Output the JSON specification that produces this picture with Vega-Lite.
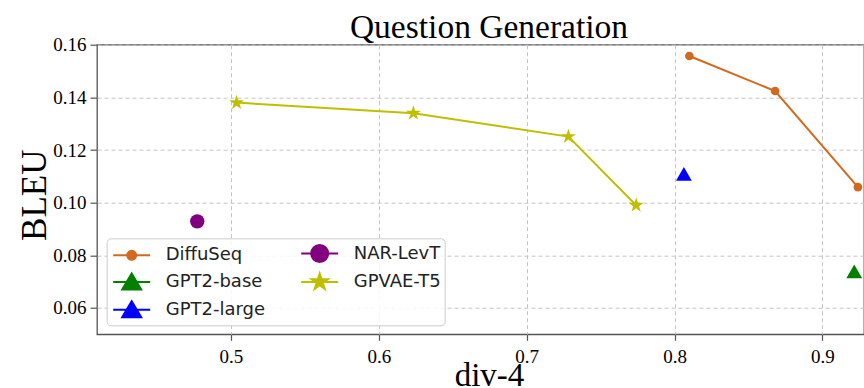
{
  "$schema": "https://vega.github.io/schema/vega-lite/v6.json",
  "width": 767,
  "height": 289.6,
  "autosize": {"type": "none"},
  "padding": {"left": 97, "top": 44.7, "right": 0, "bottom": 53.7},
  "background": "white",
  "title": {
    "text": "Question Generation",
    "font": "Liberation Serif",
    "fontSize": 33.5,
    "fontWeight": "normal",
    "color": "#000000",
    "anchor": "middle",
    "frame": "group",
    "offset": -10,
    "dx": 8.5
  },
  "config": {
    "view": {"stroke": "#555555", "strokeWidth": 1.3}
  },
  "data": {
    "values": [
      {"model": "DiffuSeq", "x": 0.810, "y": 0.1557, "order": 1},
      {"model": "DiffuSeq", "x": 0.868, "y": 0.1424, "order": 2},
      {"model": "DiffuSeq", "x": 0.924, "y": 0.1059, "order": 3},
      {"model": "GPT2-base", "x": 0.9215, "y": 0.0739, "order": 1},
      {"model": "GPT2-large", "x": 0.8063, "y": 0.1109, "order": 1},
      {"model": "NAR-LevT", "x": 0.4772, "y": 0.0929, "order": 1},
      {"model": "GPVAE-T5", "x": 0.5038, "y": 0.1380, "order": 1},
      {"model": "GPVAE-T5", "x": 0.6234, "y": 0.1340, "order": 2},
      {"model": "GPVAE-T5", "x": 0.7282, "y": 0.1251, "order": 3},
      {"model": "GPVAE-T5", "x": 0.7740, "y": 0.0990, "order": 4}
    ]
  },
  "encoding": {
    "x": {
      "field": "x",
      "type": "quantitative",
      "scale": {"domain": [0.4094, 0.9281], "nice": false, "zero": false},
      "axis": {
        "values": [0.5, 0.6, 0.7, 0.8, 0.9],
        "format": ".1f",
        "title": "div-4",
        "titleFont": "Liberation Serif",
        "titleFontSize": 33,
        "titleFontWeight": "normal",
        "titleColor": "#000000",
        "titleX": 392,
        "titleY": 51,
        "titleBaseline": "alphabetic",
        "titleAlign": "center",
        "labelFont": "Liberation Serif",
        "labelFontSize": 19,
        "labelColor": "#000000",
        "labelFlush": false,
        "labelPadding": 7,
        "tickSize": 6,
        "tickColor": "#555555",
        "tickWidth": 1.2,
        "domain": false,
        "grid": true,
        "gridDash": [4, 3],
        "gridColor": "#c4c4c4",
        "gridWidth": 1
      }
    },
    "y": {
      "field": "y",
      "type": "quantitative",
      "scale": {"domain": [0.05, 0.16], "nice": false, "zero": false},
      "axis": {
        "values": [0.06, 0.08, 0.10, 0.12, 0.14, 0.16],
        "format": ".2f",
        "title": "BLEU",
        "titleFont": "Liberation Serif",
        "titleFontSize": 35,
        "titleFontWeight": "normal",
        "titleColor": "#000000",
        "titleAngle": -90,
        "titleX": -52,
        "titleY": 150,
        "titleBaseline": "alphabetic",
        "titleAlign": "center",
        "labelFont": "Liberation Serif",
        "labelFontSize": 19,
        "labelColor": "#000000",
        "labelFlush": false,
        "labelPadding": 4,
        "tickSize": 7,
        "tickColor": "#555555",
        "tickWidth": 1.2,
        "domain": false,
        "grid": true,
        "gridDash": [4, 3],
        "gridColor": "#c4c4c4",
        "gridWidth": 1
      }
    },
    "color": {
      "field": "model",
      "type": "nominal",
      "scale": {
        "domain": ["DiffuSeq", "GPT2-base", "GPT2-large", "NAR-LevT", "GPVAE-T5"],
        "range": ["#D2691E", "#008000", "#0000FF", "#800080", "#BFBF00"]
      },
      "legend": {
        "title": null,
        "orient": "none",
        "legendX": 9.7,
        "legendY": 193.6,
        "direction": "vertical",
        "columns": 2,
        "columnPadding": 31,
        "rowPadding": 2.7,
        "padding": 4,
        "fillColor": "rgba(255,255,255,0.85)",
        "strokeColor": "#cccccc",
        "cornerRadius": 4,
        "labelFont": "DejaVu Sans",
        "labelFontSize": 18,
        "labelColor": "#222222",
        "labelOffset": 23,
        "symbolOffset": 10,
        "symbolSize": 400,
        "symbolStrokeWidth": 2,
        "encode": {
          "symbols": {
            "update": {
              "shape": {"signal": "datum.value === 'DiffuSeq' ? 'M-1.85,0H1.85M0.45,0A0.45,0.45,0,1,1,-0.45,0A0.45,0.45,0,1,1,0.45,0Z' : datum.value === 'NAR-LevT' ? 'M-1.85,0H1.85M0.85,0A0.85,0.85,0,1,1,-0.85,0A0.85,0.85,0,1,1,0.85,0Z' : datum.value === 'GPVAE-T5' ? 'M-1.85,0H1.85M0,-0.85L0.191,-0.263L0.808,-0.263L0.309,0.1L0.5,0.688L0,0.325L-0.5,0.688L-0.309,0.1L-0.808,-0.263L-0.191,-0.263Z' : 'M-1.85,0H1.85M0,-0.85L0.95,0.75L-0.95,0.75Z'"},
              "size": {"value": 400},
              "fill": {"signal": "scale('color', datum.value)"},
              "stroke": {"signal": "scale('color', datum.value)"},
              "fillOpacity": {"value": 1},
              "strokeOpacity": {"value": 1},
              "opacity": {"value": 1},
              "strokeWidth": {"value": 2}
            }
          }
        }
      }
    }
  },
  "layer": [
    {
      "mark": {"type": "line", "strokeWidth": 2},
      "encoding": {
        "order": {"field": "order", "type": "quantitative"}
      }
    },
    {
      "transform": [{"filter": "datum.model === 'DiffuSeq'"}],
      "mark": {"type": "point", "filled": true, "opacity": 1, "shape": "circle", "size": 75}
    },
    {
      "transform": [{"filter": "datum.model === 'NAR-LevT'"}],
      "mark": {"type": "point", "filled": true, "opacity": 1, "shape": "circle", "size": 205}
    },
    {
      "transform": [{"filter": "datum.model === 'GPT2-base' || datum.model === 'GPT2-large'"}],
      "mark": {"type": "point", "filled": true, "opacity": 1, "shape": "triangle-up", "size": 250}
    },
    {
      "transform": [{"filter": "datum.model === 'GPVAE-T5'"}],
      "mark": {"type": "point", "filled": true, "opacity": 1, "size": 250, "shape": "M0,-1L0.2245,-0.309L0.951,-0.309L0.363,0.118L0.588,0.809L0,0.382L-0.588,0.809L-0.363,0.118L-0.951,-0.309L-0.2245,-0.309Z"}
    }
  ]
}
